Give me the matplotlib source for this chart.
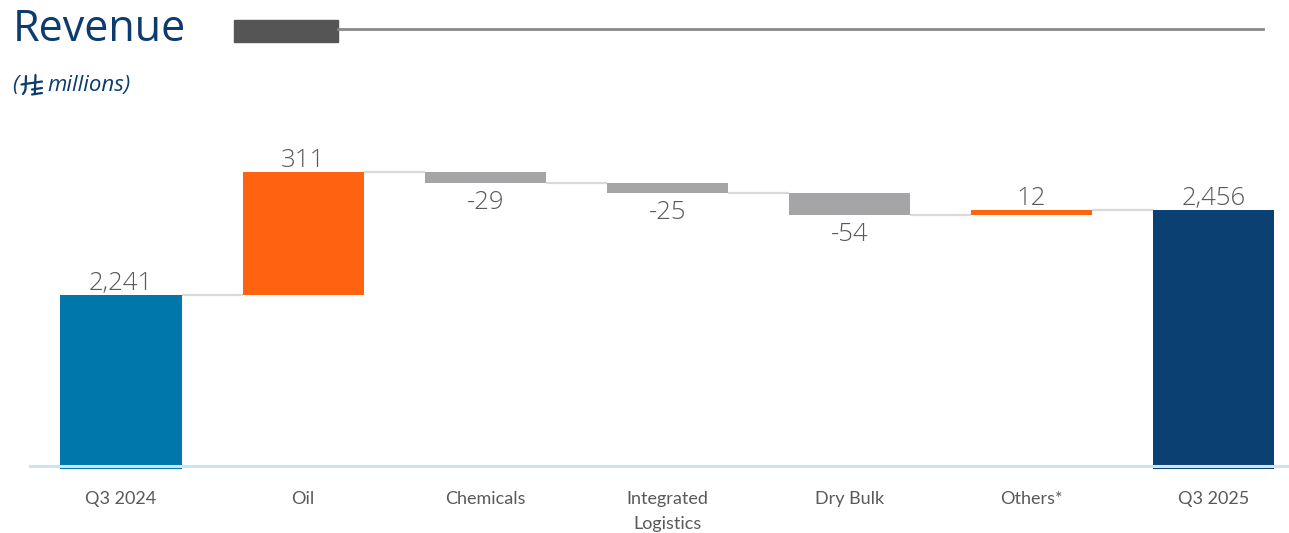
import matplotlib
matplotlib.use("Agg")
import matplotlib.pyplot as plt
from matplotlib.lines import Line2D
from matplotlib.patches import Rectangle

# ---- data ----
categories = ["Q3 2024", "Oil", "Chemicals", "Integrated\nLogistics", "Dry Bulk", "Others*", "Q3 2025"]
start_value = 2241
changes = [311, -29, -25, -54, 12]
end_value = 2456
value_labels = ["2,241", "311", "-29", "-25", "-54", "12", "2,456"]

# ---- style ----
C_START = "#0077AA"
C_END = "#0B4072"
C_UP = "#FF6310"
C_DOWN = "#A5A5A8"
C_TEXT = "#595959"
C_TITLE = "#0B3B6F"
C_CONN = "#D9D9D9"

W, H = 1289, 533
fig = plt.figure(figsize=(W / 100, H / 100), dpi=100)


def fx(px):
    return px / W


def fy(py):
    return 1 - py / H


ax = fig.add_axes([fx(30), fy(466), fx(1289 - 30), fy(120) - fy(466)])

y_floor = 1808.5
ax.set_ylim(y_floor, 2683.6)
ax.set_xlim(-0.5, 6.415)
bar_w = 0.665

# running totals for the waterfall
bottoms, heights, colors = [], [], []
bottoms.append(1800)
heights.append(start_value - 1800)
colors.append(C_START)
level = start_value
levels = [level]
for ch in changes:
    if ch >= 0:
        bottoms.append(level)
        heights.append(ch)
        colors.append(C_UP)
    else:
        bottoms.append(level + ch)
        heights.append(-ch)
        colors.append(C_DOWN)
    level += ch
    levels.append(level)
bottoms.append(1800)
heights.append(end_value - 1800)
colors.append(C_END)

xs = list(range(len(categories)))
ax.bar(xs, heights, bottom=bottoms, width=bar_w, color=colors, clip_on=False, zorder=2)

# connectors between consecutive bars
for i in range(len(categories) - 1):
    lv = levels[i]
    ax.plot([i + bar_w / 2, i + 1 - bar_w / 2], [lv, lv], color=C_CONN, lw=1.6, zorder=1,
            solid_capstyle="butt")

# value labels: above for increases/totals, below for decreases
signed = [start_value] + changes + [end_value]
for i, (v, lab) in enumerate(zip(signed, value_labels)):
    top = bottoms[i] + heights[i]
    if v >= 0:
        ax.annotate(lab, (i, top), xytext=(0, -1), textcoords="offset points",
                    ha="center", va="bottom", fontsize=18.5, color=C_TEXT,
                    family="Open Sans", fontweight="light")
    else:
        ax.annotate(lab, (i, bottoms[i]), xytext=(0, -5), textcoords="offset points",
                    ha="center", va="top", fontsize=18.5, color=C_TEXT,
                    family="Open Sans", fontweight="light")

# baseline
ax.axhline(y_floor, color="#CCE4FA", lw=2.2, zorder=3, clip_on=False)

ax.set_xticks(xs)
ax.set_xticklabels(categories, fontsize=13, color=C_TEXT, family="Lato", linespacing=1.7)
ax.tick_params(axis="x", length=0, pad=18)
ax.set_yticks([])
for s in ax.spines.values():
    s.set_visible(False)
ax.patch.set_alpha(0)

# ---- header ----
fig.text(fx(13), fy(30), "Revenue", fontsize=31, color=C_TITLE, family="Open Sans",
         ha="left", va="center")
fig.patches.append(Rectangle((fx(234), fy(42)), fx(104), fy(20) - fy(42),
                             transform=fig.transFigure, color="#555555"))
fig.lines.append(Line2D([fx(338), fx(1263)], [fy(29), fy(29)], transform=fig.transFigure,
                        color="#888888", lw=2))

# subtitle with a hand-drawn riyal sign
fig.text(fx(12), fy(86), "(", fontsize=16, color=C_TITLE, family="Open Sans", style="italic",
         ha="left", va="center")
riyal_strokes = [
    ([26, 25.5, 24.5, 23], [76, 89, 92, 94]),
    ([35.5, 34.8], [75, 94]),
    ([21.5, 42], [84.5, 81.5]),
    ([32, 42], [89.5, 88]),
    ([32, 42], [94.5, 93]),
]
for xs_s, ys_s in riyal_strokes:
    fig.lines.append(Line2D([fx(v) for v in xs_s], [fy(v) for v in ys_s],
                            transform=fig.transFigure, color=C_TITLE, lw=1.6,
                            solid_capstyle="round"))
fig.text(fx(47), fy(86), "millions)", fontsize=16, color=C_TITLE, family="Open Sans",
         style="italic", ha="left", va="center")

fig.savefig("out.png", dpi=100)
